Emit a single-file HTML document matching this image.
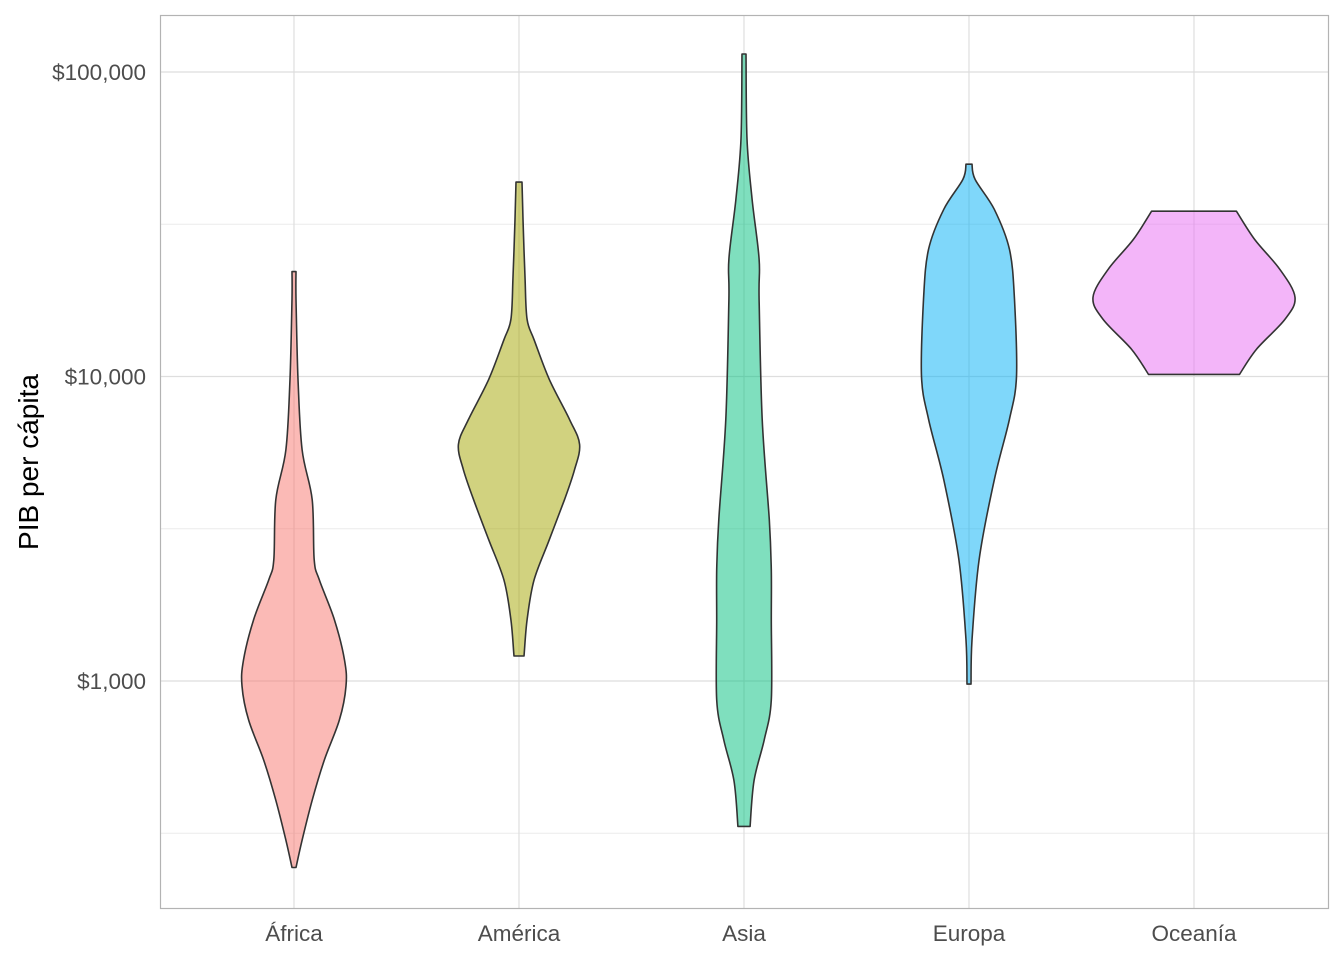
<!DOCTYPE html>
<html><head><meta charset="utf-8"><style>
body{margin:0;background:#fff;}
svg{display:block;font-family:"Liberation Sans",sans-serif;}
</style></head><body>
<svg id="chart" width="1344" height="960">
<rect width="1344" height="960" fill="#fff"/>
<g id="grid"></g><g id="violins"></g><g id="axes"></g>
<rect x="160.5" y="15.5" width="1168" height="893" fill="none" stroke="#b3b3b3" stroke-width="1.2"/>
<text x="0" y="0" transform="translate(38,462) rotate(-90)" text-anchor="middle" font-size="28" fill="#000">PIB per cápita</text>
</svg>
<script>
const categories=["África","América","Asia","Europa","Oceanía"];
const colors=["#F8766D","#A3A500","#00BF7D","#00B0F6","#E76BF3"];
const yTicks=[1000,10000,100000];
const yTickLabels=["$1,000","$10,000","$100,000"];
const yMinor=[316.2,3162,31623];
// violin profiles: GDP values and density (relative half width, max=1)
const africaGdp=[22100,17900,9780,5750,3940,2500,2150,1590,1172,963,745,550,406,300,244];
const africaDens=[0.02,0.02,0.04,0.08,0.18,0.2,0.25,0.4,0.5,0.515,0.45,0.3,0.18,0.08,0.02];
const americaGdp=[43500,32800,20800,15400,13200,9780,7230,5980,4940,3940,2910,2150,1590,1208];
const americaDens=[0.03,0.04,0.06,0.08,0.15,0.3,0.5,0.6,0.55,0.45,0.3,0.15,0.08,0.05];
const asiaGdp=[114600,60300,38200,24300,17900,7230,3390,2320,1590,866,640,472,333];
const asiaDens=[0.02,0.03,0.08,0.15,0.15,0.18,0.25,0.27,0.27,0.27,0.2,0.1,0.06];
const europaGdp=[49800,44400,35400,26200,17900,10000,7230,4580,2500,1365,977];
const europaDens=[0.03,0.06,0.25,0.4,0.45,0.47,0.4,0.25,0.1,0.03,0.02];
const oceaniaGdp=[34900,28200,22500,18200,15400,12300,10160];
const oceaniaDens=[0.42,0.6,0.85,1.0,0.9,0.62,0.45];
const gdps=[africaGdp,americaGdp,asiaGdp,europaGdp,oceaniaGdp];
const dens=[africaDens,americaDens,asiaDens,europaDens,oceaniaDens];

const NS="http://www.w3.org/2000/svg";
const yScale=v=>681-(Math.log10(v)-3)*304.5;
const xScale=i=>294+i*225;
const maxHalf=101;
function mk(tag,attrs,parent){const e=document.createElementNS(NS,tag);for(const k in attrs)e.setAttribute(k,attrs[k]);parent.appendChild(e);return e;}
function smooth(pts){ // catmull-rom open curve, returns segment string starting after first point
  let s='';
  for(let i=0;i<pts.length-1;i++){
    const p0=pts[Math.max(0,i-1)],p1=pts[i],p2=pts[i+1],p3=pts[Math.min(pts.length-1,i+2)];
    const c1=[p1[0]+(p2[0]-p0[0])/6,p1[1]+(p2[1]-p0[1])/6];
    const c2=[p2[0]-(p3[0]-p1[0])/6,p2[1]-(p3[1]-p1[1])/6];
    s+='C'+c1[0].toFixed(1)+','+c1[1].toFixed(1)+' '+c2[0].toFixed(1)+','+c2[1].toFixed(1)+' '+p2[0].toFixed(1)+','+p2[1].toFixed(1);
  }
  return s;
}
const grid=document.getElementById('grid'),vg=document.getElementById('violins'),ax=document.getElementById('axes');
yMinor.forEach(v=>{const l=mk('line',{x1:160,x2:1328,y1:yScale(v),y2:yScale(v),stroke:'#ebebeb','stroke-width':1},grid);

});
yTicks.forEach((v,i)=>{const y=yScale(v);
const l=mk('line',{x1:160,x2:1328,y1:y,y2:y,stroke:'#dedede','stroke-width':1.2},grid);


const t=mk('text',{x:146,y:y+8,'text-anchor':'end','font-size':22.5,fill:'#4d4d4d'},ax);t.textContent=yTickLabels[i];

});
categories.forEach((c,i)=>{const x=xScale(i);
const l=mk('line',{x1:x,x2:x,y1:15,y2:908,stroke:'#dedede','stroke-width':1.2},grid);


const t=mk('text',{x:x,y:941,'text-anchor':'middle','font-size':22.5,fill:'#4d4d4d'},ax);t.textContent=c;


const g=gdps[i],d=dens[i];let R=[],L=[];
for(let k=0;k<g.length;k++)R.push([x+d[k]*maxHalf,yScale(g[k])]);
for(let k=g.length-1;k>=0;k--)L.push([x-d[k]*maxHalf,yScale(g[k])]);
const dd='M'+L[L.length-1][0].toFixed(1)+','+L[L.length-1][1].toFixed(1)+'L'+R[0][0].toFixed(1)+','+R[0][1].toFixed(1)+smooth(R)+'L'+L[0][0].toFixed(1)+','+L[0][1].toFixed(1)+smooth(L)+'Z';
const p=mk('path',{d:dd,fill:colors[i],'fill-opacity':0.5,stroke:'#333','stroke-width':1.6,'stroke-linejoin':'round'},vg);

});
</script>
</body></html>
